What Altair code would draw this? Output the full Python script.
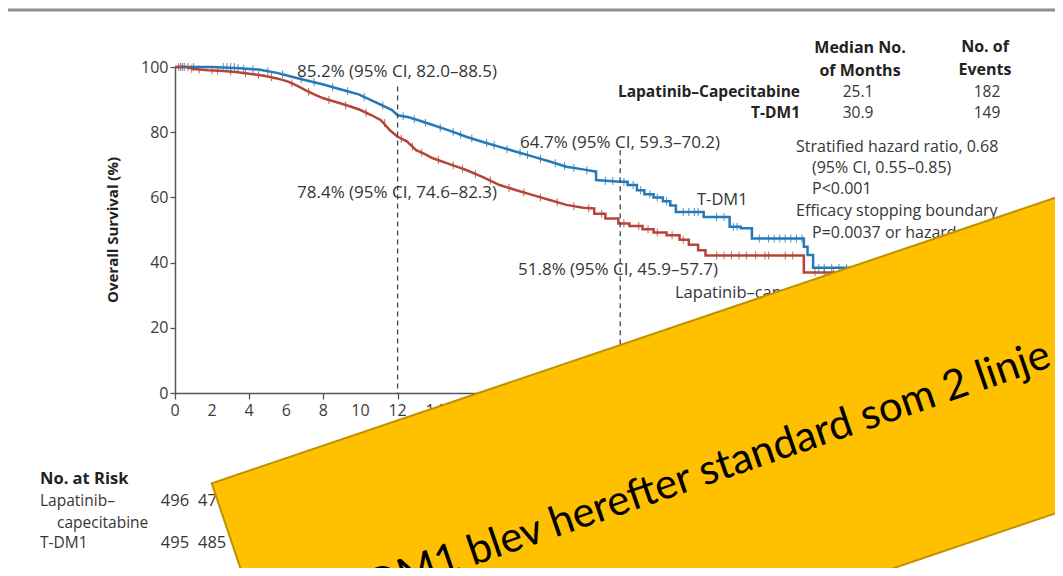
import altair as alt
import pandas as pd

# ---------------- data ----------------
tdm_month = [0, 2.0, 3.5, 4.5, 5.5, 6.3, 7.0, 8.1, 9.0, 9.9, 10.8, 11.7, 12.0, 12.6, 13.2,
             13.9, 14.8, 15.7, 16.6, 17.5, 18.4, 19.3, 20.2, 21.1, 22.0, 22.7, 22.7, 24.0,
             24.4, 24.4, 24.9, 24.9, 25.3, 25.3, 25.8, 25.8, 26.3, 26.3, 26.7, 26.7, 27.0,
             27.0, 28.5, 28.5, 29.9, 29.9, 30.5, 30.5, 31.1, 31.1, 33.9, 33.9, 34.1, 34.1,
             34.4, 34.4, 38.5]
tdm_surv = [100, 100, 99.6, 99.2, 98.2, 97.0, 96.0, 94.5, 93.0, 91.6, 89.2, 86.8, 85.2, 84.6, 83.5,
            82.2, 80.5, 78.6, 77.0, 75.5, 74.0, 72.5, 71.0, 69.4, 68.6, 67.9, 65.3, 64.8,
            64.8, 63.8, 63.8, 62.2, 62.2, 61.0, 61.0, 60.0, 60.0, 58.8, 58.8, 57.5, 57.5,
            55.5, 55.5, 54.0, 54.0, 51.0, 51.0, 50.5, 50.5, 47.4, 47.4, 44.9, 44.9, 42.3,
            42.3, 38.4, 38.4]

lap_month = [0, 0.6, 1.0, 1.8, 2.6, 3.4, 4.2, 4.8, 5.5, 6.1, 6.6, 7.0, 7.5, 8.0, 8.9, 9.5,
             10.0, 10.6, 11.1, 11.6, 12.0, 12.5, 13.0, 13.5, 13.9, 14.8, 15.7, 16.6, 17.5,
             18.4, 19.3, 20.2, 21.1, 22.0, 22.6, 22.6, 23.2, 23.2, 23.9, 23.9, 24.5, 24.5,
             25.2, 25.2, 25.8, 25.8, 26.5, 26.5, 27.2, 27.2, 27.7, 27.7, 28.2, 28.2, 28.6,
             28.6, 33.9, 33.9, 38.5]
lap_surv = [100, 100, 99.4, 99.0, 98.8, 98.4, 97.8, 97.3, 96.5, 95.5, 94.2, 93.0, 91.6, 90.4, 88.9, 87.8,
            86.8, 85.2, 83.7, 80.5, 78.6, 77.2, 74.5, 73.2, 72.0, 70.2, 68.4, 66.2, 63.8,
            62.2, 60.7, 59.2, 57.7, 56.8, 56.6, 55.0, 55.0, 53.5, 53.5, 52.0, 52.0, 51.2,
            51.2, 50.2, 50.2, 49.2, 49.2, 48.4, 48.4, 47.0, 47.0, 45.5, 45.5, 43.8, 43.8,
            42.2, 42.2, 37.0, 37.0]

tdm_cens_month = [0.3, 0.5, 0.7, 1.0, 2.6, 2.8, 3.0, 3.2, 3.4, 3.7, 4.2, 5.0, 5.8, 6.8, 7.5, 8.5,
                  9.3, 10.2, 11.2, 12.3, 12.9, 13.5, 14.3, 15.0, 15.4, 16.0, 16.8, 17.2, 17.9,
                  18.6, 19.0, 19.7, 20.5, 21.0, 21.5, 22.2, 23.2, 23.6, 24.2, 24.7, 25.1, 25.6,
                  26.0, 26.5, 27.4, 27.7, 28.0, 28.2, 29.2, 29.6, 30.1, 30.3, 31.5, 32.0, 32.3,
                  32.6, 32.9, 33.2, 33.5, 33.8, 34.7, 35.0, 35.4, 35.8, 36.2]
tdm_cens_surv = [100, 100, 100, 100, 100, 100, 100, 100, 99.7, 99.5, 99.3, 98.7, 97.8, 96.3, 95.3, 93.8,
                 92.6, 90.8, 88.2, 84.9, 84.0, 82.9, 81.4, 80.1, 79.2, 78.1, 76.7, 76.0, 74.8,
                 73.7, 73.0, 71.8, 70.5, 69.6, 69.0, 68.3, 65.1, 65.0, 64.8, 63.8, 62.2, 61.0,
                 60.0, 58.8, 55.5, 55.5, 55.5, 55.5, 54.0, 54.0, 51.0, 51.0, 47.4, 47.4, 47.4,
                 47.4, 47.4, 47.4, 47.4, 47.4, 38.4, 38.4, 38.4, 38.4, 38.4]
lap_cens_month = [0.2, 0.4, 0.9, 1.3, 2.0, 2.3, 3.0, 3.8, 4.5, 5.2, 6.3, 7.2, 8.3, 9.2, 10.3,
                  11.3, 12.2, 12.8, 13.3, 14.2, 15.0, 15.5, 16.2, 17.0, 18.0, 18.8, 19.7, 20.6,
                  21.5, 22.3, 23.0, 24.2, 25.0, 25.5, 26.0, 26.8, 27.4, 29.2, 29.6, 30.0, 30.4,
                  30.8, 31.3, 31.8, 32.0, 32.9, 33.3, 34.5, 35.0, 35.5, 36.0]
lap_cens_surv = [100, 100, 99.5, 99.2, 99.0, 98.9, 98.6, 98.1, 97.5, 96.9, 95.0, 92.4, 89.9, 88.3, 86.0,
                 82.8, 78.0, 75.6, 73.7, 71.5, 69.8, 68.8, 67.2, 65.2, 62.9, 61.5, 60.0, 58.5,
                 57.3, 56.7, 55.0, 52.0, 51.2, 50.2, 49.2, 48.4, 47.0, 42.2, 42.2, 42.2, 42.2,
                 42.2, 42.2, 42.2, 42.2, 42.2, 42.2, 37.0, 37.0, 37.0, 37.0]

arms = ["T-DM1", "Lapatinib–capecitabine"]
landmark_months = [12, 24]
landmark_top = [94, 74.5]

x_tick_values = list(range(0, 41, 2))
y_tick_values = list(range(0, 101, 10))

risk_months = [0, 2]
lap_risk = [496, 471]
tdm_risk = [495, 485]

# ---------------- styling ----------------
BLUE = "#2479bb"
RED = "#b5443a"
FONT = "Open Sans"
TXT = "#363636"
DARK = "#222222"
OX, OY = 175, 67          # page position of the plot origin (month 0, 100 %)


def P(px, py):
    return px - OX, py - OY


def label(text, px, py, size=16, weight="normal", align="left", color=TXT,
          font=FONT, angle=0, baseline="middle"):
    x, y = P(px, py)
    return alt.Chart(pd.DataFrame({"t": [text]})).mark_text(
        font=font, fontSize=size, fontWeight=weight, align=align,
        baseline=baseline, color=color, angle=angle
    ).encode(x=alt.value(x), y=alt.value(y), text="t:N")


km = pd.DataFrame({
    "month": tdm_month + lap_month,
    "surv": tdm_surv + lap_surv,
    "arm": [arms[0]] * len(tdm_month) + [arms[1]] * len(lap_month),
    "ord": list(range(len(tdm_month))) + list(range(len(lap_month))),
})
cens = pd.DataFrame({
    "month": tdm_cens_month + lap_cens_month,
    "surv": tdm_cens_surv + lap_cens_surv,
    "arm": [arms[0]] * len(tdm_cens_month) + [arms[1]] * len(lap_cens_month),
})
marks_df = pd.DataFrame({"month": landmark_months, "top": landmark_top,
                         "bottom": [0] * len(landmark_months)})
risk_df = pd.DataFrame({"month": risk_months, "lap": lap_risk, "tdm": tdm_risk})
xlab_df = pd.DataFrame({"month": x_tick_values, "lab": [str(v) for v in x_tick_values]})

xscale = alt.Scale(domain=[0, 40], nice=False, zero=False)
yscale = alt.Scale(domain=[0, 100], nice=False)
cscale = alt.Scale(domain=arms, range=[BLUE, RED])

axis_common = dict(title=None, grid=False, domainColor="#555555", domainWidth=1.5,
                   tickColor="#555555", tickWidth=1.3, labelFont=FONT, labelFontSize=16,
                   labelColor="#3c3c3c", labelOverlap=False)

curves = alt.Chart(km).mark_line(strokeWidth=2.5, interpolate="linear").encode(
    x=alt.X("month:Q", scale=xscale,
            axis=alt.Axis(values=x_tick_values, tickSize=6, labels=False, **axis_common)),
    y=alt.Y("surv:Q", scale=yscale,
            axis=alt.Axis(values=y_tick_values, tickSize=5, labelPadding=2,
                          labelExpr="datum.value % 20 == 0 ? datum.label : ''",
                          **axis_common)),
    color=alt.Color("arm:N", scale=cscale, legend=None),
    order="ord:Q",
)

ticks = alt.Chart(cens).mark_tick(orient="vertical", size=8, thickness=1.1,
                                  opacity=0.75).encode(
    x="month:Q", y="surv:Q",
    color=alt.Color("arm:N", scale=cscale, legend=None),
)

landmarks = alt.Chart(marks_df).mark_rule(strokeDash=[5, 4], color="#444444",
                                          strokeWidth=1.3).encode(
    x="month:Q", y="top:Q", y2="bottom:Q")

xlabels = alt.Chart(xlab_df).mark_text(font=FONT, fontSize=16, color="#3c3c3c",
                                       baseline="middle").encode(
    x="month:Q", y=alt.value(P(0, 411)[1]), text="lab:N")

tx, ty = P(4, 10)
tx2, _ = P(1063, 10)
top_rule = alt.Chart(pd.DataFrame({"r": [0]})).mark_rule(
    color="#8c8c8c", strokeWidth=3).encode(x=alt.value(tx), x2=alt.value(tx2), y=alt.value(ty))

risk_lap = alt.Chart(risk_df).mark_text(font=FONT, fontSize=16.5, color=TXT).encode(
    x="month:Q", y=alt.value(P(0, 501)[1]), text="lap:N")
risk_tdm = alt.Chart(risk_df).mark_text(font=FONT, fontSize=16.5, color=TXT).encode(
    x="month:Q", y=alt.value(P(0, 543)[1]), text="tdm:N")

texts = [
    label("85.2% (95% CI, 82.0–88.5)", 297, 72, size=17),
    label("78.4% (95% CI, 74.6–82.3)", 297, 193, size=17),
    label("64.7% (95% CI, 59.3–70.2)", 520, 143, size=17),
    label("51.8% (95% CI, 45.9–57.7)", 518, 270, size=17),
    label("T-DM1", 697, 200, size=16.5),
    label("Lapatinib–capecitabine", 675, 293, size=16.5),
    label("Median No.", 860, 48, size=16, weight="bold", align="center", color=DARK),
    label("of Months", 860, 71, size=16, weight="bold", align="center", color=DARK),
    label("No. of", 985, 47, size=16, weight="bold", align="center", color=DARK),
    label("Events", 985, 70, size=16, weight="bold", align="center", color=DARK),
    label("Lapatinib–Capecitabine", 800, 92, size=15.5, weight="bold", align="right", color=DARK),
    label("T-DM1", 800, 113, size=15.5, weight="bold", align="right", color=DARK),
    label("25.1", 858, 92, size=15.5, align="center"),
    label("30.9", 858, 113, size=15.5, align="center"),
    label("182", 987, 92, size=15.5, align="center"),
    label("149", 987, 113, size=15.5, align="center"),
    label("Stratified hazard ratio, 0.68", 796, 147),
    label("(95% CI, 0.55–0.85)", 812, 168),
    label("P<0.001", 812, 189),
    label("Efficacy stopping boundary", 796, 211),
    label("P=0.0037 or hazard ratio, 0.73", 812, 233),
    label("Overall Survival (%)", 113, 230, size=15, weight="bold", align="center",
          angle=270, color=DARK),
    label("No. at Risk", 40, 479, size=16.5, weight="bold", color=DARK),
    label("Lapatinib–", 40, 501, size=15.5),
    label("capecitabine", 57, 523, size=15.5),
    label("T-DM1", 40, 543, size=15.5),
]

bx, by = P(211.7, 483.3)
banner = alt.Chart(pd.DataFrame({"b": [0]})).mark_point(
    shape="M0,0L13,0L13,2.99L0,2.99Z", size=40000, filled=True, fill="#FFC000",
    stroke="#BF9000", strokeWidth=2, opacity=1, fillOpacity=1, strokeOpacity=1,
    angle=341.3
).encode(x=alt.value(bx), y=alt.value(by))

banner_text = label("T-DM1 blev herefter standard som 2 linje", 1053, 366, size=42,
                    font="Lato", align="right", baseline="alphabetic", color="#000000",
                    angle=341.0)

chart = alt.layer(
    curves, top_rule, landmarks, ticks, xlabels, risk_lap, risk_tdm, *texts, banner, banner_text
).properties(
    width=742, height=326,
    autosize=alt.AutoSizeParams(type="none"),
    padding={"left": 167, "top": 59, "right": 138, "bottom": 175},
    background="white",
).configure_view(stroke=None).configure_axis(labelOverlap=False)

chart.save("out.html", embed_options={"renderer": "svg", "actions": False})
